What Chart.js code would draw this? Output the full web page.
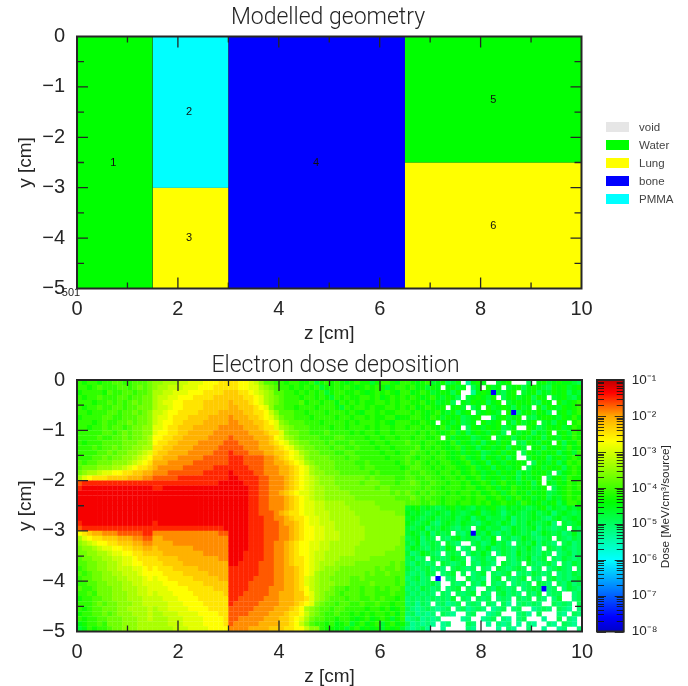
<!DOCTYPE html>
<html>
<head>
<meta charset="utf-8">
<title>Modelled geometry and electron dose</title>
<script src="https://cdn.jsdelivr.net/npm/chart.js@4/dist/chart.umd.js"></script>
<style>
  html, body { margin: 0; padding: 0; background: #fff; }
  #page { position: relative; width: 688px; height: 686px; overflow: hidden; font-family: "Liberation Sans", sans-serif; filter: blur(0.45px); background: #fff; }
  canvas { position: absolute; }
  #geoChart { left: 0; top: 0; }
  #doseChart { left: 0; top: 345px; filter: blur(0.7px); }
  #barChart { left: 585px; top: 345px; }
  .key { position: absolute; left: 606px; width: 23px; height: 10px; }
  .keyText { position: absolute; left: 639px; font-size: 11.5px; line-height: 14px; color: #444; }
</style>
</head>
<body>
<div id="page">
  <canvas id="geoChart" width="657" height="345"></canvas>
  <canvas id="doseChart" width="671" height="343"></canvas>
  <canvas id="barChart" width="103" height="341"></canvas>
</div>
<script>
/* ---------- geometry regions ---------- */
const regionNames = ['1', '2', '3', '4', '5', '6'];
const regionZStart = [0, 1.5, 1.5, 3, 6.5, 6.5];
const regionZEnd = [1.5, 3, 3, 6.5, 10, 10];
const regionYTop = [0, 0, -3, 0, 0, -2.5];
const regionYBottom = [-5, -3, -5, -5, -2.5, -5];
const regionMaterial = ['Water', 'PMMA', 'Lung', 'bone', 'Water', 'Lung'];
const regionLabelZ = [0.72, 2.22, 2.22, 4.74, 8.25, 8.25];
const regionLabelY = [-2.5, -1.5, -4, -2.5, -1.25, -3.75];

const materials = ['void', 'Water', 'Lung', 'bone', 'PMMA'];
const materialColors = ['#e6e6e6', '#00ff00', '#ffff00', '#0000ff', '#00ffff'];

/* ---------- colour bar ---------- */
const barDecades = [-8, -7, -6, -5, -4, -3, -2, -1];
const paletteLogs = [-8, -7.6, -6.8, -6, -5.2, -4.4, -3.6, -2.7, -2, -1.35, -1];
const paletteRgb = [[0,0,200],[0,0,255],[0,128,255],[0,255,255],[0,255,128],[0,255,0],[128,255,0],[255,255,0],[255,165,0],[255,0,0],[190,0,0]];

/* ---------- dose, one letter per 1 mm cell ---------- */
// a = 10^-6.1, each next letter is 0.2 decades up, # is about 10^-7.6, dot is an empty cell
const doseLetters = 'abcdefghijklmnopqrstuvwxyz';
const doseFirstColumn = [0, 15, 30, 65];

const doseWaterFront = [
  'kjkkjkkllkklllm','kkjklkkkllklmlm','jkkkkjlkkllkllm','kjkklkkkllkllmm','kkkjkklklklmlmm',
  'kjkklkkllkllmmm','kkjkkkllkllmlmn','jkkkkllkklllmmn','kkkjklkkllmlmmn','kkjkklkllklmmnn',
  'kkkkkllklmlmmnn','kkkklkkllmlmmno','kjkkkllllmmmnno','kkklkllmlmmnnoo','kkkkllmlmmnnopq',
  'kkkllmlmmnnopqr','lkllmmmnnnopqrs','lmmmnnnoopqrsst','mnoopqqrrssttuu','oqrsssttttuuuvv',
  'wxxxxxxxxxxxxxx','xyyyyyyyyyyyyyy','yyyyyyyyyyyyyyy','yyyyyyyyyyyyyyy','yyyyyyyyyyyyyyy',
  'yyyyyyyyyyyyyyy','yyyyyyyyyyyyyyy','yyyyyyyyyyyyyyy','xyyyyyyyyyyyyyy','wxxxxxxxxxxxxxx',
  'rstuuvvvwwwwwxx','oqrsstttuuuvvww','nopqrrsstttuuvv','mnnopqqrrssttuu','mmnnoopqqrrsstt',
  'lmmnnooppqqrsss','llmmnnoopqqrrss','klmmnnoopppqqrs','lklmmnnoopppqrr','kllmmnnnoopppqr',
  'kkllmmnnnooppqq','lkklmmmnnoooppq','kklkmmmnnnooppq','jkkllmmnnnooopp','kkklmlmmnnnoopp',
  'kjkllmmmnnoooop','jkkllmlmnnnooop','kjkkllmmmnnnoop','ijkklkmmmnnnooo','hikjkklmmnnnooo'
];

const dosePmmaLung = [
  'nnoooppqqqrrrss','noopppqqqrrrsss','ooppqqqrrrsssst','oppqqrrrssssttt','opqqrrssssttttt',
  'oppqrrssssttttt','ppqrrssssttttuu','pqqrsssttttuuuu','pqrrssttttuuuuu','qqrsstttuuuuuvv',
  'qrrssttuuuuuvvv','rrssttuuuuuvvvv','rssttuuuuvvvvvw','ssttuuuuvvvvvww','sttuuuuvvvvvwww',
  'ttuuuvvvvvwwwww','uuuvvvvvwwwwwww','uvvvvvwwwwwwxxx','vvvwwwwwwwxxxxx','wwwwwxxxxxxxxxx',
  'xxxxxxxxxxxxxyy','xxyyyyyyyyyyyyy','yyyyyyyyyyyyyyy','yyyyyyyyyyyyyyy','yyyyyyyyyyyyyyy',
  'yyyyyyyyyyyyyyy','yyyyyyyyyyyyyyy','yyyyyyyyyyyyyyy','xyyyyyyyyyyyyyy','xxxxxxxxxxxxxxy',
  'vvvvvvvvvvvvvww','uuvvvvvvvvvvvvv','uuuuvvvvvvvvvvv','tuuuuuuuvvvvvvv','ttuuuuuuuuvvvvv',
  'sttttuuuuuuuuvv','ssttttuuuuuuuuu','rssstttttuuuuuu','rrsssstttttuuuu','qrrssssstttttuu',
  'qqrrrsssssttttt','qqqrrrrsssssttt','pqqqrrrrsssssst','ppqqqrrrrssssss','pppqqqrrrrsssss',
  'oppqqqqrrrrssss','oopppqqqqrrrrss','ooopppqqqqrrrrs','ooopppqqqqrrrrs','oooopppqqqqrrrr'
];

const doseBone = [
  'ssrrq pnllk kjkkj jkhjk jkjij kjjhj kkjik',
  'ssrrq qonml kkjkj kjkhj jkjkj ijkjk jhjkk',
  'ttssr qponl lkkjk jkjkh jkkjj kjijk jkjik',
  'tttss rqonm lkkkj kkjkj hkjkj jkkjk ijkjk',
  'uttts rqonm lkkkl jkkjk kikjk jkjjk kjkjk',
  'uuttt srqnl lkkjk kkjkk kjhkj kkjkj jkkjk',
  'uuutt ssrpn lllkk jkkkj kkkjk jikkj kjjkk',
  'vuuut tsrqo mllkk kjkkk kjkkj kkjkj jkkij',
  'vvuuu ttsrq nmlll kkkjk kkkjk jkkkj kjikk',
  'vvvuu utssq onmll lkkkk jkkjk kkjkj kkjkk',
  'vvvvu uutss qnmml lkkkl kkkkj kjkkj kkjkk',
  'wvvvv uuutr qonml lllkk kllkk kkjkk jkkjk',
  'wwvvv vuuts rqonm mlllk lkkkl kkkjk kjkkk',
  'wwwvv vuuut srqon mmlll kllkk lkkkj kkjkk',
  'xwwwv vvuut tsrqo nmmll lkkll kkkkk jkkjk',
  'xxxww wwvvu tsrqp nmmmm lllkl lkkkk kjkkk',
  'xxxww wwvvu utsrq onmmm mllll kklkk kkkjk',
  'xxxxw wwvvv uutsr qonmm mllll lkllk kkkkj',
  'yxxxx wwvvv uutsr qonnm mmlll lllkl kkkkk',
  'yyxxx xwwvv vutsr qponn nmmmm mmlml lllkk',
  'yyyxx xwwvv vutsr qponn nmmmm mlmmm lllkl',
  'yyyyx xwwvv vutsr qpoon nnmmm mmmml mmlll',
  'yyyyx xwwvv utsrq qpoon nnnnm mmmmm mmlml',
  'yyyyx xwwvv vutsr qpoon nnnnn mmmmm mmmll',
  'yyyyx xwwvv vutsr qqppo ooonn nnnnm mmmmm',
  'yyyyx xwwvv vutsr qqppo oooon nnnnn mmmmm',
  'yyyyx xwwwv utssr qqppp ooooo nnnnn nnnmm',
  'yyyyx xxwwv vutss rqqpp ooooo onnnn nnnnn',
  'yyyyx xxwww vuuts rqqpp poooo onnnn nnnnn',
  'yyyyx xxwww vvuts rrqqp poooo oonnn nnnnn',
  'yyyyx xxwww vvuts rrqqp ppooo oonnn nnnnn',
  'yyyyx xxwww vvuts rrqqp ppooo oonnn nnnnm',
  'yyyyx xxwwv vutsr rqqpp ooooo onnnn nnnnm',
  'yyyyx xxwwv vutsr rqqpp ooooo nnnnn nnnmm',
  'yyyxx xxwwv vutsr rqppo ooooo nnnnn nmmmm',
  'yyyxx xxwwv vutss rqppo oonnn nnnmm mmmmm',
  'yyxxx xwwwv vutss rqpoo onnnn mmmmm mmlml',
  'xxxxx xwwwv vuuts rqpon nnmmm mmmml mllml',
  'xxxxx xwwwv vuuts rqonn nmmmm mmlml lmlll',
  'xxxxx wwwwv vuuts qponn mmmml lmlll lllkl',
  'xxxxw wwwwv vuuts qponn nmmml lllml lllkl',
  'xxxxw wwwvv vuuts rponn mllkl lkllk lkllk',
  'xxxww wwwvv uuutt rqonm mlkll lkllk kklkk',
  'xxwww wwvvv uuutt sqonm lllkl lkklk lkkjk',
  'xwwww wvvvv uuuts rqnml lkllk klkkl kkjkk',
  'wwwww vvvvu uutsr onmll kllkk kkjkk jkijk',
  'wwwwv vvvuu utssr pnmlk klkkj kjkjk kjkik',
  'wwvvv vvuuu ttsrq omllk kjkkj ijkij kjhjk',
  'wvvvv vuuuu ttsrp nlkkj kijkh jkijk hjkij',
  'vvvvu uuutt tssrr pnnkj jijhj kijij hjijh'
];

const doseBack = [
  'kjijk hijgh j.eij i..hi j...g .ijhi jiihg',
  'jkijh ji.ij hi.gi .jhi. hijgi jihgj ijhij',
  'kijkj hijig j..ei ji#hg ij.hi jgihj ijgih',
  'jkjij kihji g.hij ihj.g ijhij gji.h ijhgi',
  'kjjki jhijg .ihji jgij. hijij hgji. jhijk',
  'jkijk jij.i jh.gi .jhij igjhi .jgji hjijk',
  'kjkji jkihj gij.h ijih. j#gij hjig. ijhjk',
  'jkkji kjhji jghij ..gij hij.h gijji hjiki',
  'kjjkj i.jih jghi. jhij. igjhi j.hig ji.jk',
  'jkkjk jikhj i.gji hjijg hi..j ighji jhikj',
  'kkjkj kjijk hjgij ihjig .jhij gihj. ijhkj',
  'kjkkj jk.jh jijgh ij.hi jgijh ijgji hjikj',
  'lkkjk kjjik hjihj gijhj i.hgj ihji. jgjik',
  'kkljk jkjij khjig ijhij gjih. ijgji jhkij',
  'klkkj kjkji jhjij ghijh ji.gj ihjij gijhk',
  'lkjkk jkkji jkhij gjihj gi..h jijgi jhjkj',
  'lklkj kjkkj ijkhi jgjih jiji. gjihj gikjk',
  'kllkk jkjkk jijkh ijgji hij.g ijhji jgjkj',
  'lkklk kjkkj kijkj hijhj ijgih jijh. gijkj',
  'llkkl kkjkk jkijk hjijh jigjh ij.gi jhkjj',
  'lmlkk lkkjk kjkij kjhjk ijhij gj.ih jikjk',
  'lllkl kkjkk kjkki jkjhj ikjij hij.g ijkjk',
  'mlklk lkkjk jkkjk ijkjh jkijh jijgh ijkjj',
  'lmlkl kkjkk kjkjk kijkj hjkij hijgi hjkjk',
  'lllkk lkjkk jkkjk jkijk jjhkj ijhij gikkj',
  'hijhi hghij hihgi hijhg ihihg hijgi hgihi',
  'ihihg hihgi hghij ghihf hihgh ighif hihgh',
  'hihgh ighhi ghifh ighhg ifhgh ihgfh ighih',
  'ihghi gfhih gihgf hihgi hfhgi hghif .hghi',
  'hghif hgihg fhg.h ighhf gihgh ifhgf gh.hg',
  'hihgi fhgh. gfh#h gigfh gihgh fgihg hfgig',
  'ghifh g.gfh ighgf hgi.g hfgih gfgh. hgfhg',
  'hgifg hg.hg f..gh fgigh f.ghg ifhgf .ghfg',
  'gihgf hgfih .fg.h gifgh gfhgi gf.hg fhgfg',
  'hfgih gf.gh g.fhg ig.fh gfigh gfhg. fghfg',
  'ghfg. hgfgi hg.fg hfg.. gfhgi fgh.g fhgfg',
  'gfhgf g.hgf gh.gf hgf.h gfg.h gfghf .gfhg',
  'hgfgh fgf.g hgfg. gf.hg fghg. fg.fg hgf.g',
  'gfgfh g.fgh .g.fg h.gfg h.fgf hgfg. fgfhg',
  'fghfg .#.fg ..hfg f.gh. gfgh. gf.gh fgfgh',
  'gfgfg hf..g fg.gf h.gfg .fgfg .hgf. gfhfg',
  'fgfhg fg.fg h.gf. .gfhg fg.fg hg#fg .fhgf',
  'gfgfg f.gf. gfgh. gf.gh fgf.g fh.fg g..fg',
  'fgfgf gfgfh .gf.g fg.fg f.gfg .gf.f h..fg',
  'fgegf .fgef g.fgf .gf.g e.fgf gf..g fgf.g',
  'gfefg fefg. fgefg f.efg .fg.. efgf. gfe.f',
  'fgefe f.gfe ..fg. .efg. ..fge .g... fe.gf',
  'efgef ef... .ef.. efg.f e.fg. ..e.. g.fe.',
  'gefef e.ef. ..gf. .e.fe f.e.f e..fe .gfe.',
  'fefge ..e.. ..fe. ...e. fe..f ..e.. ef..f'
];

const doseBlocks = [doseWaterFront, dosePmmaLung, doseBone, doseBack];

const inkColor = '#262626';
const axisFont = { family: '"Liberation Sans", sans-serif', size: 20 };
const titleFont = { family: 'Roboto, "Liberation Sans", sans-serif', size: 23, weight: 300, lineHeight: 1.2 };

function letterToLog(letter) {
    if (letter === '#') return -7.6;
    return -6.1 + 0.2 * doseLetters.indexOf(letter);
}

function logToColor(log) {
    let i = 0;
    while (i < paletteLogs.length - 2 && log > paletteLogs[i + 1]) i++;
    const f = Math.min(1, Math.max(0, (log - paletteLogs[i]) / (paletteLogs[i + 1] - paletteLogs[i])));
    const a = paletteRgb[i], b = paletteRgb[i + 1];
    return `rgb(${a.map((c, k) => Math.round(c + (b[k] - c) * f)).join(',')})`;
}

function minusLabel(value) {
    return String(value).replace('-', '\u2212');
}

// Frame and inward tick marks on all four sides, placed through the chart's scales
const frameTicks = {
    id: 'frameTicks',
    afterDatasetsDraw(chart) {
        const { ctx, chartArea: area, scales } = chart;
        ctx.save();
        ctx.strokeStyle = inkColor;
        ctx.lineWidth = 1.3;
        ctx.beginPath();
        for (let z = 1; z < 10; z++) {
            const px = scales.x.getPixelForValue(z);
            const len = z % 2 === 0 ? 11 : 6;
            ctx.moveTo(px, area.top); ctx.lineTo(px, area.top + len);
            ctx.moveTo(px, area.bottom); ctx.lineTo(px, area.bottom - len);
        }
        for (let y = -0.5; y > -5; y -= 0.5) {
            const py = scales.y.getPixelForValue(y);
            const len = Number.isInteger(y) ? 11 : 7;
            ctx.moveTo(area.left, py); ctx.lineTo(area.left + len, py);
            ctx.moveTo(area.right, py); ctx.lineTo(area.right - len, py);
        }
        ctx.stroke();
        ctx.lineWidth = 2;
        ctx.strokeRect(area.left, area.top, area.width, area.height);
        ctx.restore();
    }
};

const regionText = {
    id: 'regionText',
    afterDatasetsDraw(chart) {
        const { ctx, scales } = chart;
        ctx.save();
        ctx.fillStyle = '#111';
        ctx.font = '11px "Liberation Sans", sans-serif';
        ctx.textAlign = 'center';
        ctx.textBaseline = 'middle';
        regionNames.forEach((name, i) => {
            ctx.fillText(name, scales.x.getPixelForValue(regionLabelZ[i]), scales.y.getPixelForValue(regionLabelY[i]));
        });
        ctx.fillStyle = inkColor;
        ctx.fillText('501', scales.x.getPixelForValue(0) - 6, scales.y.getPixelForValue(-5) + 4);
        ctx.restore();
    }
};

// The titles sit on their own centre, not on the middle of the padded chart box
function titleAt(centre) {
    return {
        id: 'titleAt',
        afterLayout(chart) {
            chart.titleBlock.left = centre - 200;
            chart.titleBlock.right = centre + 200;
        }
    };
}

function planeOptions(titleText, rightPad, bottomHeight, titlePadding) {
    return {
        responsive: false,
        animation: false,
        events: [],
        layout: { padding: { right: rightPad } },
        plugins: {
            legend: { display: false },
            tooltip: { enabled: false },
            title: { display: true, text: titleText, color: inkColor, font: titleFont, padding: titlePadding }
        },
        scales: {
            x: {
                type: 'linear', min: 0, max: 10,
                grid: { display: false },
                border: { display: false },
                ticks: { stepSize: 2, color: inkColor, font: axisFont, padding: 1, maxRotation: 0 },
                title: { display: true, text: 'z [cm]', color: inkColor, font: { ...axisFont, size: 19 }, padding: 0 },
                afterFit(scale) { scale.height = bottomHeight; }
            },
            y: {
                type: 'linear', min: -5, max: 0,
                grid: { display: false },
                border: { display: false },
                ticks: { stepSize: 1, color: inkColor, font: axisFont, padding: 4, callback: minusLabel },
                title: { display: true, text: 'y [cm]', color: inkColor, font: { ...axisFont, size: 19 }, padding: { top: 14, bottom: 0 } },
                afterFit(scale) { scale.width = 77; }
            }
        }
    };
}

/* ---------- top chart: geometry ---------- */
const regionSets = regionNames.map((name, i) => ({
    label: name,
    showLine: true,
    data: [{ x: regionZStart[i], y: regionYTop[i] }, { x: regionZEnd[i], y: regionYTop[i] }],
    fill: { value: regionYBottom[i] },
    backgroundColor: materialColors[materials.indexOf(regionMaterial[i])],
    borderWidth: 0,
    pointRadius: 0
}));

const edgeSets = regionNames.map((name, i) => ({
    label: 'edge ' + name,
    showLine: true,
    data: [
        { x: regionZStart[i], y: regionYBottom[i] },
        { x: regionZStart[i], y: regionYTop[i] },
        { x: regionZEnd[i], y: regionYTop[i] },
        { x: regionZEnd[i], y: regionYBottom[i] }
    ],
    borderColor: '#333',
    borderWidth: 1,
    fill: false,
    pointRadius: 0
}));

new Chart(document.getElementById('geoChart'), {
    type: 'scatter',
    data: { datasets: regionSets.concat(edgeSets) },
    options: planeOptions('Modelled geometry', 75.5, 56.5, { top: 4, bottom: 4.9 }),
    plugins: [frameTicks, regionText, titleAt(328)]
});

/* ---------- bottom chart: dose ---------- */
const dosePoints = [];
const doseColors = [];
doseBlocks.forEach((block, b) => {
    block.forEach((row, j) => {
        row.split(' ').join('').split('').forEach((letter, i) => {
            if (letter === '.') return;
            dosePoints.push({ x: (doseFirstColumn[b] + i + 0.5) * 0.1, y: -(j + 0.5) * 0.1 });
            doseColors.push(logToColor(letterToLog(letter)));
        });
    });
});

new Chart(document.getElementById('doseChart'), {
    type: 'scatter',
    data: {
        datasets: [{
            label: 'Dose',
            data: dosePoints,
            pointStyle: 'rect',
            pointRadius: 3.8,
            pointBorderWidth: 0,
            pointBackgroundColor: doseColors
        }]
    },
    options: planeOptions('Electron dose deposition', 89, 56.5, { top: 7, bottom: 0.4 }),
    plugins: [frameTicks, titleAt(335.5)]
});

/* ---------- colour bar ---------- */
const superDigits = { '-': '\u207b', '1': '\u00b9', '2': '\u00b2', '3': '\u00b3', '4': '\u2074', '5': '\u2075', '6': '\u2076', '7': '\u2077', '8': '\u2078' };

const barDecor = {
    id: 'barDecor',
    afterDatasetsDraw(chart) {
        const { ctx, chartArea: area, scales } = chart;
        ctx.save();
        ctx.strokeStyle = 'rgba(20,20,20,0.85)';
        ctx.lineWidth = 1;
        ctx.beginPath();
        barDecades.slice(0, -1).forEach(d => {
            for (let m = 1; m < 10; m++) {
                const py = Math.round(scales.y.getPixelForValue(m * Math.pow(10, d))) + 0.5;
                const len = m === 1 ? 9 : 7;
                ctx.moveTo(area.left, py); ctx.lineTo(area.left + len, py);
                ctx.moveTo(area.right, py); ctx.lineTo(area.right - len, py);
            }
        });
        ctx.stroke();
        ctx.strokeStyle = inkColor;
        ctx.lineWidth = 2;
        ctx.strokeRect(area.left, area.top, area.width, area.height);
        ctx.translate(81, (area.top + area.bottom) / 2 + 1);
        ctx.rotate(-Math.PI / 2);
        ctx.fillStyle = inkColor;
        ctx.font = '11.8px "Liberation Sans", sans-serif';
        ctx.textAlign = 'center';
        ctx.textBaseline = 'middle';
        ctx.fillText('Dose [MeV/cm\u00b3/source]', 0, 0);
        ctx.restore();
    }
};

function barGradient(context) {
    const { chart } = context;
    const area = chart.chartArea;
    if (!area) return '#000';
    const g = chart.ctx.createLinearGradient(0, area.bottom, 0, area.top);
    paletteLogs.forEach((log, i) => {
        g.addColorStop((log - paletteLogs[0]) / (paletteLogs[paletteLogs.length - 1] - paletteLogs[0]), `rgb(${paletteRgb[i].join(',')})`);
    });
    return g;
}

new Chart(document.getElementById('barChart'), {
    type: 'bar',
    data: {
        labels: ['Dose'],
        datasets: [{
            data: [[Math.pow(10, barDecades[0]), Math.pow(10, barDecades[barDecades.length - 1])]],
            backgroundColor: barGradient,
            barPercentage: 1,
            categoryPercentage: 1
        }]
    },
    options: {
        responsive: false,
        animation: false,
        events: [],
        layout: { padding: { left: 12, top: 35, bottom: 54.5 } },
        plugins: { legend: { display: false }, tooltip: { enabled: false } },
        scales: {
            x: { display: false },
            y: {
                type: 'logarithmic',
                position: 'right',
                min: Math.pow(10, barDecades[0]),
                max: Math.pow(10, barDecades[barDecades.length - 1]),
                grid: { display: false },
                border: { display: false },
                afterBuildTicks(scale) {
                    scale.ticks = barDecades.map(d => ({ value: Math.pow(10, d) }));
                },
                ticks: {
                    autoSkip: false,
                    color: inkColor,
                    font: { family: '"Liberation Sans", sans-serif', size: 13.5 },
                    padding: 0,
                    callback(value) {
                        const exp = String(Math.round(Math.log10(value)));
                        return '10' + exp.split('').map(c => superDigits[c]).join('');
                    }
                },
                afterFit(scale) { scale.width = 64.3; }
            }
        }
    },
    plugins: [barDecor]
});

/* ---------- material key ---------- */
const page = document.getElementById('page');
const keyTop = [122, 140, 157.5, 176, 193.5];
materials.forEach((name, i) => {
    const swatch = document.createElement('div');
    swatch.className = 'key';
    swatch.style.top = keyTop[i] + 'px';
    swatch.style.background = materialColors[i];
    page.appendChild(swatch);
    const text = document.createElement('div');
    text.className = 'keyText';
    text.style.top = (keyTop[i] - 2) + 'px';
    text.textContent = name;
    page.appendChild(text);
});
</script>
</body>
</html>
